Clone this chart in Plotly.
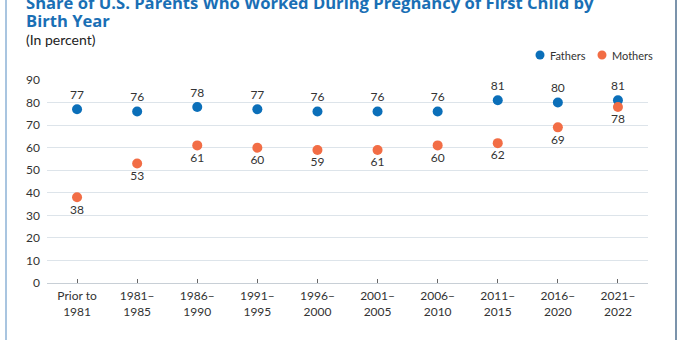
import plotly.graph_objects as go

categories = ["Prior to<br>1981", "1981–<br>1985", "1986–<br>1990", "1991–<br>1995", "1996–<br>2000",
              "2001–<br>2005", "2006–<br>2010", "2011–<br>2015", "2016–<br>2020", "2021–<br>2022"]
fathers = [77, 76, 78, 77, 76, 76, 76, 81, 80, 81]
fathers_labels = ["77", "76", "78", "77", "76", "76", "76", "81", "80", "81"]
mothers = [38, 53, 61, 60, 59, 59, 61, 62, 69, 78]
mothers_labels = ["38", "53", "61", "60", "59", "61", "60", "62", "69", "78"]
y_ticks = [0, 10, 20, 30, 40, 50, 60, 70, 80, 90]
series_names = ["Fathers", "Mothers"]
title_lines = ["Share of U.S. Parents Who Worked During Pregnancy of First Child by", "Birth Year"]
subtitle = "(In percent)"

BLUE = "#0b6fb9"
ORANGE = "#f26d45"
TXT = "#333333"
FONT = "Lato"
TITLE_COL = "#1a6fb5"

W, H = 680, 340
L, R, T, B = 47, 32, 80, 57
pw, ph = W - L - R, H - T - B

def px_x(x):
    return (x - L) / pw

def px_y(y):
    return (H - B - y) / ph

fig = go.Figure()
fig.add_trace(go.Scatter(
    x=list(range(len(categories))), y=fathers, mode="markers+text", name=series_names[0],
    marker=dict(color=BLUE, size=10), text=fathers_labels, textposition="top center",
    textfont=dict(family=FONT, size=12, color=TXT), cliponaxis=False))
fig.add_trace(go.Scatter(
    x=list(range(len(categories))), y=mothers, mode="markers+text", name=series_names[1],
    marker=dict(color=ORANGE, size=10), text=mothers_labels, textposition="bottom center",
    textfont=dict(family=FONT, size=12, color=TXT), cliponaxis=False))

fig.update_layout(
    width=W, height=H, margin=dict(l=L, r=R, t=T, b=B),
    paper_bgcolor="white", plot_bgcolor="white",
    font=dict(family=FONT, color=TXT),
    showlegend=False,
    xaxis=dict(range=[-0.5, len(categories) - 0.5], tickmode="array",
               tickvals=list(range(len(categories))), ticktext=categories,
               ticks="inside", ticklen=4, tickcolor="#666", showgrid=False,
               showline=False, zeroline=False, ticklabelstandoff=4,
               tickfont=dict(family=FONT, size=12, color=TXT)),
    yaxis=dict(range=[0, 90], tickvals=y_ticks, showgrid=True, gridcolor="#dde4ea",
               gridwidth=1, zeroline=True, zerolinecolor="#c8cfd6", zerolinewidth=1,
               showline=False, ticks="", ticklabelstandoff=6,
               tickfont=dict(family=FONT, size=12, color=TXT)),
)

# custom legend
legend_items = [(series_names[0], BLUE, 540), (series_names[1], ORANGE, 602)]
for name, col, xdot in legend_items:
    fig.add_shape(type="circle", xref="paper", yref="paper", xsizemode="pixel", ysizemode="pixel",
                  xanchor=px_x(xdot), yanchor=px_y(55), x0=-4.5, x1=4.5, y0=-4.5, y1=4.5,
                  fillcolor=col, line=dict(width=0))
    fig.add_annotation(text=name, xref="paper", yref="paper", x=px_x(xdot + 8), y=px_y(55),
                       xanchor="left", yanchor="middle", showarrow=False,
                       font=dict(family=FONT, size=11, color=TXT))

title_span = "<span style='font-family:Open Sans;font-size:16.6px;color:%s'><b>%s</b></span>"
header = "<br>".join([title_span % (TITLE_COL, t) for t in title_lines] +
                     ["<span style='font-family:Lato;font-size:14px;color:#222'>%s</span>" % subtitle])
fig.add_annotation(text=header, xref="paper", yref="paper", x=px_x(24), y=px_y(20),
                   xanchor="left", yanchor="middle", align="left", showarrow=False,
                   font=dict(family="Lato", size=14, color="#222"))

fig.add_shape(type="line", xref="paper", yref="paper", x0=px_x(6), x1=px_x(6), y0=px_y(345), y1=px_y(-5),
              line=dict(color="#a9c5e0", width=2))
fig.add_shape(type="line", xref="paper", yref="paper", x0=px_x(676), x1=px_x(676), y0=px_y(345), y1=px_y(-5),
              line=dict(color="#4f6f8f", width=1.5))

fig.write_html("out.html")
